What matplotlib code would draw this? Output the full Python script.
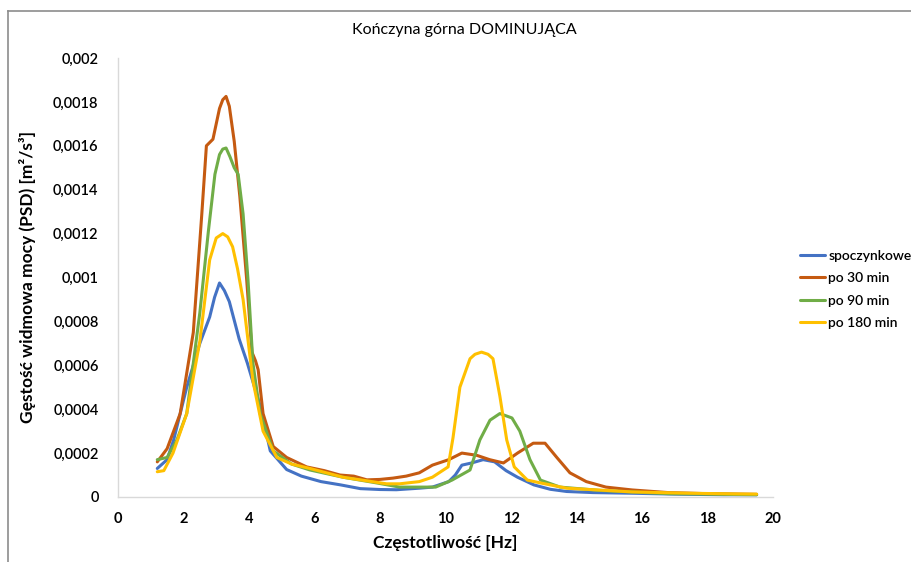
import matplotlib
matplotlib.use('Agg')
import matplotlib.pyplot as plt
from matplotlib.lines import Line2D
from matplotlib.ticker import FuncFormatter, MultipleLocator

plt.rcParams['font.family'] = ['Lato', 'DejaVu Sans']

# Dane (częstotliwość [Hz], PSD [m2/s3] x 1e-4)
f_spocz = [1.2, 1.5, 1.7, 2.1, 2.5, 2.8, 2.95, 3.1, 3.25, 3.4, 3.7, 3.95, 4.35, 4.65, 5.15,
           5.6, 6.2, 6.8, 7.4, 8.0, 8.5, 9.2, 9.6, 10.1, 10.3, 10.5, 10.8, 11.15, 11.5,
           11.85, 12.2, 12.7, 13.2, 13.7, 14.5, 15.7, 17.0, 18.5, 19.5]
psd_spocz = [1.3, 1.7, 2.6, 5.0, 7.0, 8.2, 9.1, 9.75, 9.4, 8.9, 7.2, 6.1, 4.1, 2.1, 1.25,
             0.95, 0.7, 0.55, 0.38, 0.34, 0.33, 0.4, 0.45, 0.7, 1.0, 1.45, 1.55, 1.7, 1.6,
             1.2, 0.9, 0.55, 0.35, 0.25, 0.2, 0.17, 0.13, 0.1, 0.1]

f_30 = [1.2, 1.5, 1.9, 2.3, 2.56, 2.7, 2.9, 3.1, 3.2, 3.3, 3.4, 3.55, 3.72, 3.93, 4.09, 4.2,
        4.28, 4.43, 4.74, 5.15, 5.76, 6.3, 6.78, 7.2, 7.6, 8.0, 8.4, 8.8, 9.2, 9.6, 10.1,
        10.5, 10.95, 11.35, 11.77, 12.2, 12.68, 13.04, 13.4, 13.8, 14.3, 14.9, 15.7, 16.8,
        18.0, 19.5]
psd_30 = [1.6, 2.2, 3.8, 7.5, 12.9, 16.0, 16.3, 17.7, 18.1, 18.25, 17.8, 16.2, 13.7, 9.9,
          6.6, 6.2, 5.8, 3.8, 2.3, 1.8, 1.37, 1.2, 1.0, 0.95, 0.78, 0.8, 0.86, 0.95, 1.1,
          1.45, 1.7, 2.0, 1.9, 1.7, 1.55, 2.0, 2.45, 2.45, 1.8, 1.1, 0.7, 0.45, 0.32, 0.2,
          0.15, 0.12]

f_90 = [1.2, 1.5, 1.8, 2.1, 2.5, 2.76, 2.96, 3.1, 3.2, 3.3, 3.42, 3.55, 3.67, 3.82, 3.97,
        4.12, 4.34, 4.74, 5.3, 5.86, 6.87, 7.9, 8.6, 9.2, 9.7, 10.2, 10.75, 11.05, 11.36,
        11.66, 12.03, 12.27, 12.58, 12.9, 13.5, 14.7, 16.8, 18.5, 19.5]
psd_90 = [1.7, 1.8, 2.6, 3.8, 8.4, 12.1, 14.7, 15.6, 15.85, 15.9, 15.5, 15.0, 14.7, 12.9,
          9.9, 6.1, 3.8, 2.1, 1.5, 1.23, 0.9, 0.64, 0.45, 0.45, 0.45, 0.77, 1.23, 2.6, 3.5,
          3.8, 3.6, 3.0, 1.7, 0.77, 0.45, 0.3, 0.15, 0.12, 0.1]

f_180 = [1.2, 1.4, 1.68, 2.1, 2.5, 2.8, 3.0, 3.2, 3.35, 3.5, 3.65, 3.82, 4.12, 4.43, 4.85,
         5.3, 5.86, 6.87, 8.2, 8.6, 9.2, 9.6, 10.08, 10.23, 10.44, 10.75, 10.9, 11.1, 11.3,
         11.45, 11.66, 11.87, 12.1, 12.5, 12.9, 13.7, 15.7, 17.5, 18.8, 19.5]
psd_180 = [1.15, 1.2, 2.0, 3.8, 7.1, 10.8, 11.8, 12.0, 11.85, 11.4, 10.4, 9.0, 5.3, 3.0,
           1.8, 1.5, 1.3, 0.9, 0.6, 0.6, 0.7, 0.9, 1.37, 2.7, 5.0, 6.3, 6.5, 6.6, 6.5,
           6.3, 4.6, 2.6, 1.37, 0.77, 0.64, 0.4, 0.23, 0.17, 0.14, 0.13]

series = [
    ('spoczynkowe', f_spocz, psd_spocz, '#4472C4'),
    ('po 30 min', f_30, psd_30, '#C55A11'),
    ('po 90 min', f_90, psd_90, '#70AD47'),
    ('po 180 min', f_180, psd_180, '#FFC000'),
]

fig = plt.figure(figsize=(9.11, 5.62), dpi=100)
ax = fig.add_axes([0.1295, 0.1157, 0.719, 0.7811])

for name, f, p, color in series:
    ax.plot(f, [v * 1e-4 for v in p], color=color, linewidth=2.2, label=name,
            solid_joinstyle='round', solid_capstyle='round')

ax.set_xlim(0, 20)
ax.set_ylim(0, 0.002)
ax.xaxis.set_major_locator(MultipleLocator(2))
ax.yaxis.set_major_locator(MultipleLocator(0.0002))


def pl_fmt(v, pos):
    s = f"{v:.4f}".rstrip('0').rstrip('.')
    return s.replace('.', ',')


ax.yaxis.set_major_formatter(FuncFormatter(pl_fmt))
ax.tick_params(length=0, labelsize=10.5, colors='#000000')
ax.tick_params(axis='x', pad=11)
ax.tick_params(axis='y', pad=14)
for lab in ax.get_xticklabels():
    lab.set_fontweight('bold')
for lab in ax.get_yticklabels():
    lab.set_fontweight('semibold')

for s in ['top', 'right']:
    ax.spines[s].set_visible(False)
for s in ['left', 'bottom']:
    ax.spines[s].set_color('#D9D9D9')
    ax.spines[s].set_linewidth(1.0)

ax.set_xlabel('Częstotliwość [Hz]', fontsize=12.5, fontweight='bold', labelpad=6)
ax.set_ylabel('Gęstość widmowa mocy (PSD) [m²/s³]', fontsize=12.5, fontweight='bold',
              labelpad=12)

fig.text(0.51, 0.947, 'Kończyna górna DOMINUJĄCA', ha='center', va='center', fontsize=11.5)

leg = ax.legend(loc='center left', bbox_to_anchor=(800 / 911, 0.485),
                bbox_transform=fig.transFigure, frameon=False, borderaxespad=0,
                borderpad=0, handlelength=1.8, handletextpad=0.25, labelspacing=0.75,
                prop={'size': 10, 'weight': 'semibold'})

# ramka wykresu
fig.add_artist(Line2D([8 / 911, 8 / 911], [0, 1 - 11 / 562], color='#8C8C8C', linewidth=1.2))
fig.add_artist(Line2D([8 / 911, 1], [1 - 11 / 562, 1 - 11 / 562], color='#8C8C8C', linewidth=1.2))

fig.savefig('out.png', dpi=100)
